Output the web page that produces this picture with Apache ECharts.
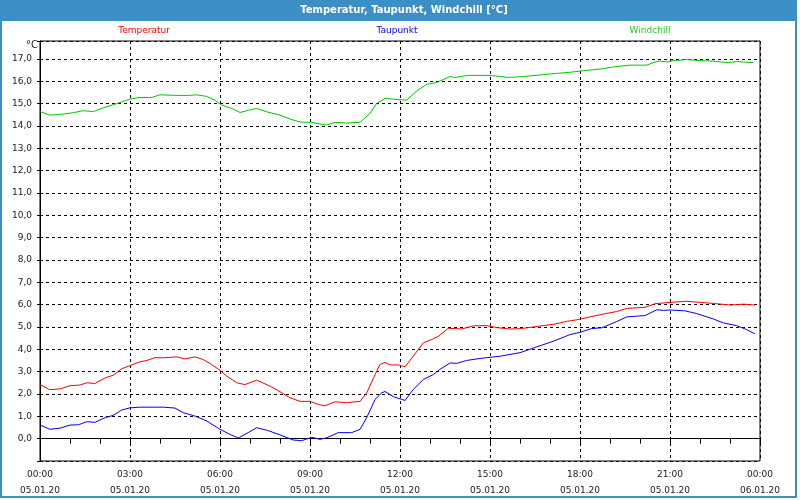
<!DOCTYPE html>
<html>
<head>
<meta charset="UTF-8">
<title>Temperatur, Taupunkt, Windchill</title>
<script src="https://cdn.jsdelivr.net/npm/echarts@6/dist/echarts.min.js"></script>
<style>
  html, body { margin: 0; padding: 0; background: #ffffff; }
  #chart { width: 800px; height: 500px; }
</style>
</head>
<body>
<div id="chart"></div>
<script>
var tempData = [
  [0, 2.42], [0.33, 2.19], [0.67, 2.23], [1.0, 2.37], [1.33, 2.4], [1.56, 2.5], [1.83, 2.47],
  [2.17, 2.72], [2.44, 2.84], [2.72, 3.13], [3.0, 3.27], [3.33, 3.44], [3.56, 3.5], [3.83, 3.63],
  [4.11, 3.62], [4.56, 3.66], [4.83, 3.57], [5.17, 3.66], [5.44, 3.54], [5.72, 3.32], [6.0, 3.06],
  [6.22, 2.8], [6.56, 2.5], [6.83, 2.42], [7.22, 2.62], [7.67, 2.35], [8.0, 2.1], [8.33, 1.83],
  [8.67, 1.67], [9.0, 1.67], [9.28, 1.53], [9.5, 1.47], [9.83, 1.65], [10.22, 1.61], [10.67, 1.67],
  [10.89, 2.05], [11.17, 2.87], [11.33, 3.32], [11.5, 3.41], [11.67, 3.3], [11.94, 3.3], [12.17, 3.22],
  [12.44, 3.69], [12.78, 4.29], [13.11, 4.47], [13.28, 4.58], [13.61, 4.94], [14.06, 4.91], [14.44, 5.05],
  [14.89, 5.06], [15.28, 4.96], [15.67, 4.91], [16.0, 4.92], [16.44, 5.0], [17.11, 5.12], [17.56, 5.25],
  [17.94, 5.33], [18.33, 5.45], [18.78, 5.58], [19.22, 5.69], [19.56, 5.83], [20.17, 5.88], [20.5, 6.04],
  [21.0, 6.1], [21.56, 6.15], [22.0, 6.1], [22.56, 6.04], [23.0, 5.98], [23.44, 6.02], [23.83, 5.98]
];
var dewData = [
  [0, 0.61], [0.33, 0.42], [0.67, 0.47], [1.0, 0.61], [1.28, 0.62], [1.56, 0.76], [1.83, 0.73],
  [2.17, 0.94], [2.44, 1.04], [2.72, 1.28], [3.0, 1.38], [3.33, 1.41], [4.11, 1.41], [4.5, 1.37],
  [4.78, 1.16], [5.17, 1.01], [5.56, 0.79], [6.0, 0.42], [6.33, 0.19], [6.61, 0.03], [6.94, 0.27],
  [7.22, 0.49], [7.56, 0.38], [8.0, 0.17], [8.44, -0.06], [8.72, -0.09], [9.06, 0.06], [9.33, -0.03],
  [9.56, 0.04], [9.94, 0.27], [10.39, 0.27], [10.67, 0.42], [10.89, 0.94], [11.17, 1.76], [11.39, 2.05],
  [11.5, 2.11], [11.78, 1.88], [12.17, 1.71], [12.44, 2.2], [12.78, 2.65], [13.11, 2.87], [13.33, 3.1],
  [13.67, 3.39], [13.89, 3.37], [14.22, 3.5], [14.67, 3.59], [15.33, 3.69], [16.0, 3.85], [16.56, 4.11],
  [17.11, 4.36], [17.67, 4.66], [18.0, 4.76], [18.39, 4.93], [18.72, 4.96], [19.22, 5.24], [19.56, 5.45],
  [20.17, 5.51], [20.56, 5.77], [20.78, 5.74], [21.0, 5.76], [21.5, 5.72], [21.89, 5.6], [22.44, 5.36],
  [22.78, 5.18], [23.22, 5.06], [23.56, 4.88], [23.83, 4.69]
];
var chillData = [
  [0, 14.64], [0.33, 14.48], [0.78, 14.53], [1.11, 14.59], [1.44, 14.68], [1.78, 14.64], [2.11, 14.81],
  [2.56, 15.0], [3.0, 15.2], [3.33, 15.27], [3.72, 15.27], [4.0, 15.39], [4.44, 15.37], [4.89, 15.36],
  [5.22, 15.39], [5.56, 15.32], [5.83, 15.15], [6.06, 14.93], [6.39, 14.78], [6.67, 14.6], [6.94, 14.7],
  [7.22, 14.78], [7.56, 14.63], [8.0, 14.48], [8.33, 14.31], [8.67, 14.17], [9.06, 14.16], [9.33, 14.08],
  [9.56, 14.04], [9.83, 14.16], [10.22, 14.13], [10.67, 14.16], [11.0, 14.56], [11.22, 15.0], [11.5, 15.23],
  [11.94, 15.18], [12.22, 15.15], [12.56, 15.57], [12.89, 15.86], [13.22, 15.94], [13.67, 16.21],
  [13.83, 16.17], [14.28, 16.26], [15.0, 16.26], [15.61, 16.17], [16.11, 16.21], [16.67, 16.28],
  [17.22, 16.35], [17.67, 16.4], [18.06, 16.46], [18.33, 16.5], [18.78, 16.56], [19.11, 16.64],
  [19.67, 16.72], [20.22, 16.72], [20.5, 16.86], [20.67, 16.9], [20.94, 16.86], [21.11, 16.92],
  [21.56, 16.97], [22.0, 16.92], [22.44, 16.9], [22.94, 16.83], [23.22, 16.88], [23.44, 16.86], [23.78, 16.83]
];
var timeLabels = ['00:00', '03:00', '06:00', '09:00', '12:00', '15:00', '18:00', '21:00', '00:00'];
var dateLabels = ['05.01.20', '05.01.20', '05.01.20', '05.01.20', '05.01.20', '05.01.20', '05.01.20', '05.01.20', '06.01.20'];
var seriesNames = ['Temperatur', 'Taupunkt', 'Windchill'];

var chart = echarts.init(document.getElementById('chart'));
var font = 'Tahoma, "DejaVu Sans", sans-serif';
var dashed = { type: [3, 3], color: '#000', width: 1 };

var option = {
  animation: false,
  backgroundColor: '#ffffff',
  grid: { left: 40, right: 40, top: 41, bottom: 39, show: true, borderColor: '#000', borderWidth: 1 },
  graphic: [
    { type: 'rect', shape: { x: 0, y: 0, width: 797, height: 21 }, style: { fill: '#3c8fc5' } },
    { type: 'rect', shape: { x: 1, y: 1, width: 795, height: 496 }, style: { fill: null, stroke: '#3c8fc5', lineWidth: 2 } },
    { type: 'text', x: 404, y: 10, style: { text: 'Temperatur, Taupunkt, Windchill [°C]', fill: '#fff', font: 'bold 10px ' + font, align: 'center', verticalAlign: 'middle' } },
    { type: 'text', x: 144, y: 31, style: { text: seriesNames[0], fill: '#ff0000', font: '9px ' + font, align: 'center', verticalAlign: 'middle' } },
    { type: 'text', x: 397, y: 31, style: { text: seriesNames[1], fill: '#0000ff', font: '9px ' + font, align: 'center', verticalAlign: 'middle' } },
    { type: 'text', x: 650, y: 31, style: { text: seriesNames[2], fill: '#22cc22', font: '9px ' + font, align: 'center', verticalAlign: 'middle' } },
    { type: 'text', x: 38, y: 45, style: { text: '°C', fill: '#202020', font: '10px ' + font, align: 'right', verticalAlign: 'middle' } }
  ],
  xAxis: {
    type: 'value', min: 0, max: 24, interval: 3,
    axisLine: { lineStyle: { color: '#000' } },
    axisTick: { length: 5, lineStyle: { color: '#000' } },
    minorTick: { show: true, splitNumber: 3, length: 5, lineStyle: { color: '#000' } },
    splitLine: { show: true, lineStyle: dashed },
    axisLabel: {
      margin: 6, color: '#202020', fontFamily: font, fontSize: 9, lineHeight: 16,
      formatter: function (v) { var i = Math.round(v / 3); return timeLabels[i] + '\n' + dateLabels[i]; }
    }
  },
  yAxis: {
    type: 'value', min: -1, max: 17.8, interval: 1,
    axisLine: { lineStyle: { color: '#000' } },
    axisTick: { show: true, length: 6, lineStyle: { color: '#000', type: [3, 3] } },
    splitLine: { show: true, lineStyle: dashed },
    axisLabel: {
      margin: 8, color: '#202020', fontFamily: font, fontSize: 9,
      formatter: function (v) {
        if (v < 0 || Math.abs(v - Math.round(v)) > 0.01) return '';
        return v.toFixed(1).replace('.', ',');
      }
    }
  },
  series: [
    { name: seriesNames[0], type: 'line', data: tempData, showSymbol: false, lineStyle: { color: '#ff0000', width: 1 }, itemStyle: { color: '#ff0000' } },
    { name: seriesNames[1], type: 'line', data: dewData, showSymbol: false, lineStyle: { color: '#0000ff', width: 1 }, itemStyle: { color: '#0000ff' } },
    { name: seriesNames[2], type: 'line', data: chillData, showSymbol: false, lineStyle: { color: '#00c800', width: 1 }, itemStyle: { color: '#00c800' } }
  ]
};
chart.setOption(option);
</script>
</body>
</html>
